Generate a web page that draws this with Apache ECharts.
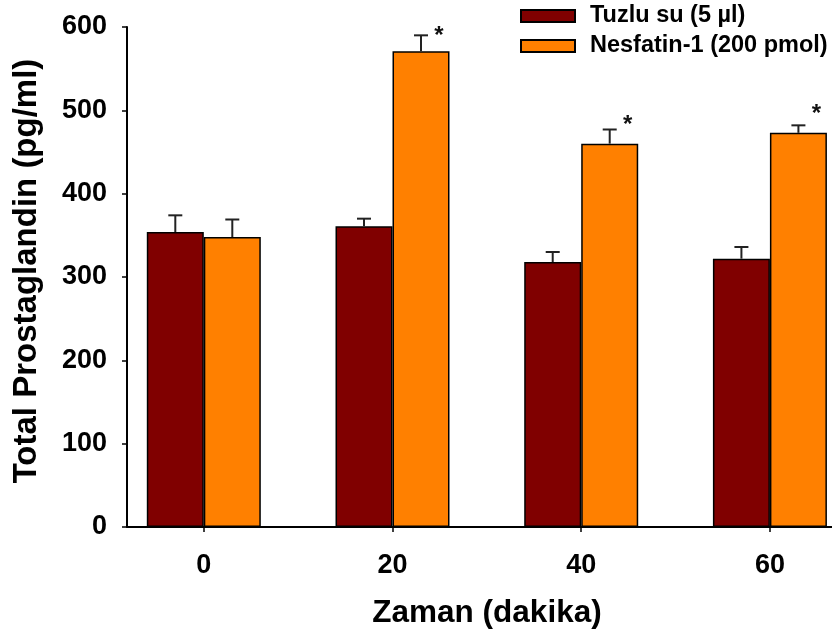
<!DOCTYPE html>
<html>
<head>
<meta charset="utf-8">
<script src="https://cdn.jsdelivr.net/npm/echarts@6/dist/echarts.min.js"></script>
<style>
  html, body { margin: 0; padding: 0; background: #fff; }
  #chart { width: 832px; height: 638px; }
</style>
</head>
<body>
<div id="chart"></div>
<script>
const categories = [0, 20, 40, 60];
const seriesNames = ['Tuzlu su (5 µl)', 'Nesfatin-1 (200 pmol)'];
const tuzluMean = [354, 361, 318, 322];
const tuzluErr = [20, 9, 12, 14];
const nesfatinMean = [348, 571, 460, 473];
const nesfatinErr = [21, 19, 17, 9];
// level (in pg/ml) at which the significance star sits; null = no star
const starLevel = [null, 594, 487, 500];
const yTicks = [0, 100, 200, 300, 400, 500, 600];

const FONT = '"Liberation Sans", Arial, sans-serif';
const BAR_W = 57;

function errSeries(means, errs, offset, stars) {
  return {
    type: 'custom',
    z: 5,
    silent: true,
    data: categories.map((c, i) => [c, means[i], errs[i], stars && stars[i] != null ? stars[i] : -1]),
    renderItem: function (params, api) {
      const x = api.value(0), m = api.value(1), e = api.value(2), s = api.value(3);
      const p0 = api.coord([x, m]);
      const p1 = api.coord([x, m + e]);
      const cx = p0[0] + offset;
      const st = { stroke: '#222', lineWidth: 2 };
      const children = [
        { type: 'line', shape: { x1: cx, y1: p0[1], x2: cx, y2: p1[1] }, style: st },
        { type: 'line', shape: { x1: cx - 7, y1: p1[1], x2: cx + 7, y2: p1[1] }, style: st }
      ];
      if (s >= 0) {
        const ps = api.coord([x, s]);
        children.push({
          type: 'text',
          style: {
            x: cx + 18, y: ps[1] + 4, text: '*',
            font: 'bold 24px ' + FONT, fill: '#111',
            textAlign: 'center', textVerticalAlign: 'middle'
          }
        });
      }
      return { type: 'group', children: children };
    }
  };
}

const chart = echarts.init(document.getElementById('chart'), null, { renderer: 'canvas' });
chart.setOption({
  backgroundColor: '#fff',
  animation: false,
  grid: { left: 127, right: 0, top: 27, bottom: 111, containLabel: false },
  legend: {
    data: seriesNames,
    orient: 'vertical',
    left: 520, top: 1,
    padding: 0,
    itemGap: 0,
    icon: 'rect',
    itemWidth: 54, itemHeight: 12,
    textStyle: { fontFamily: FONT, fontWeight: 'bold', fontSize: 23.5, color: '#000', lineHeight: 30, padding: [0, 0, 0, 10] }
  },
  xAxis: {
    type: 'value',
    min: -8.14, max: 66.58,
    name: 'Zaman (dakika)',
    nameLocation: 'middle',
    nameGap: 70,
    nameTextStyle: { fontFamily: FONT, fontWeight: 'bold', fontSize: 31.5, color: '#000', padding: [0, 0, 0, 15] },
    axisLine: { show: true, onZero: false, lineStyle: { color: '#000', width: 2 } },
    axisTick: { show: true, length: 5, customValues: categories, lineStyle: { color: '#000', width: 1.5 } },
    axisLabel: { customValues: categories, margin: 25, fontFamily: FONT, fontWeight: 'bold', fontSize: 27, color: '#000' },
    splitLine: { show: false }
  },
  yAxis: {
    type: 'value',
    min: 0, max: 600, interval: 100,
    name: 'Total Prostaglandin (pg/ml)',
    nameLocation: 'middle',
    nameGap: 84,
    nameTextStyle: { fontFamily: FONT, fontWeight: 'bold', fontSize: 33, color: '#000', padding: [0, 0, 0, 12] },
    axisLine: { show: true, onZero: false, lineStyle: { color: '#000', width: 2 } },
    axisTick: { show: true, length: 5, inside: false, lineStyle: { color: '#000', width: 1.5 } },
    axisLabel: { margin: 20, fontFamily: FONT, fontWeight: 'bold', fontSize: 27, color: '#000' },
    splitLine: { show: false }
  },
  series: [
    {
      name: seriesNames[0], type: 'bar', barWidth: BAR_W, barGap: '0%',
      itemStyle: { color: '#800000', borderColor: '#000', borderWidth: 1.5 },
      data: categories.map((c, i) => [c, tuzluMean[i]])
    },
    {
      name: seriesNames[1], type: 'bar', barWidth: BAR_W, barGap: '0%',
      itemStyle: { color: '#FF8000', borderColor: '#000', borderWidth: 1.5 },
      data: categories.map((c, i) => [c, nesfatinMean[i]])
    },
    errSeries(tuzluMean, tuzluErr, -BAR_W / 2, null),
    errSeries(nesfatinMean, nesfatinErr, BAR_W / 2, starLevel)
  ]
});
</script>
</body>
</html>
